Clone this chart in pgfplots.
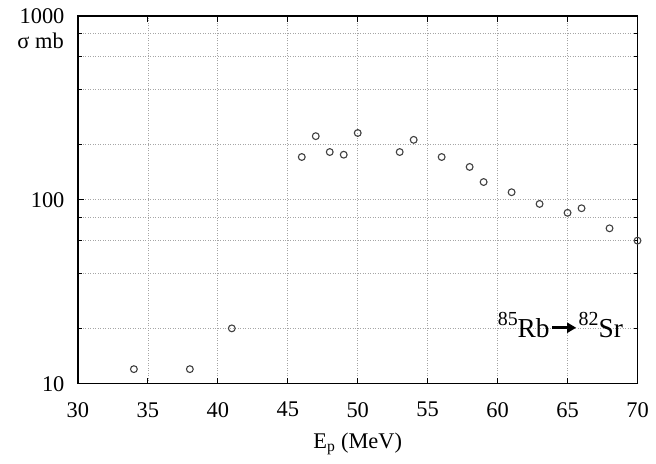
\documentclass[border=0pt]{standalone}
\usepackage{fontspec}
\setmainfont{Liberation Serif}
\usepackage{pgfplots}
\pgfplotsset{compat=1.18}
\usetikzlibrary{arrows.meta}
\begin{document}
\begin{tikzpicture}
\fontsize{22}{26}\selectfont
\begin{axis}[name=ax, at={(0,0)}, anchor=south west,
  scale only axis, width=560bp, height=368bp,
  xmin=30, xmax=70, ymin=10, ymax=1000, ymode=log,
  xtick={30,35,...,70},
  ytick={10,100,1000}, yticklabels={10,100,1000},
  minor ytick={20,40,60,80,200,400,600,800},
  /pgf/number format/assume math mode=true,
  tick label style={font=\fontsize{22.5}{26}\selectfont},
  xticklabel style={yshift=-11bp},
  yticklabel style={xshift=-6bp},
  xlabel={E\textsubscript{p} (MeV)},
  xlabel style={font=\fontsize{22.5}{26}\selectfont, yshift=-1bp},
  grid=both,
  major grid style={gray!70, line width=0.7bp, dash pattern=on 1bp off 1.5bp},
  minor grid style={gray!70, line width=0.7bp, dash pattern=on 1bp off 1.5bp},
  major tick length=6bp, minor tick length=4bp,
  tick style={black, line width=0.8bp},
  axis line style={line width=1.3bp},
]
\addplot[only marks, mark=o, mark size=3.4bp, mark options={draw=black!75, line width=1.1bp}] coordinates {
(34,12) (38,12) (41,20) (46,171) (47,222) (48,182) (49,176) (50,231)
(53,182) (54,212) (56,171) (58,151) (59,125) (61,110) (63,95) (65,85)
(66,90) (68,70) (70,60)
};
\end{axis}
\node[anchor=east, inner sep=0, font=\fontsize{22.5}{26}\selectfont] at ([xshift=-14bp,yshift=-25bp]ax.north west) {σ mb};
\node[anchor=base west, inner sep=0] at ([xshift=420bp,yshift=46bp]ax.south west)
 {\fontsize{27.5}{30}\selectfont\raisebox{0.45em}{\fontsize{20}{20}\selectfont 85}Rb\hspace{1bp}\tikz[baseline=0pt]\draw[line width=3bp,-{Triangle[length=9bp,width=10bp]}] (0,10bp)--(24bp,10bp);\hspace{1bp}\raisebox{0.45em}{\fontsize{20}{20}\selectfont 82}Sr};
\useasboundingbox ([xshift=-78bp,yshift=-80bp]ax.south west) rectangle ([xshift=18bp,yshift=16bp]ax.north east);
\end{tikzpicture}
\end{document}
